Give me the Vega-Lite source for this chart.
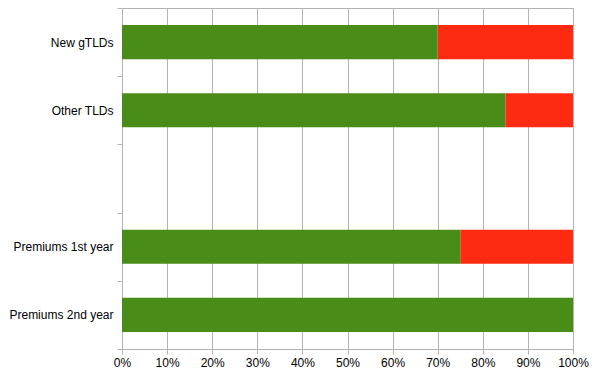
{
  "$schema": "https://vega.github.io/schema/vega-lite/v6.json",
  "width": 451,
  "height": 341,
  "padding": {"left": 8, "top": 2, "right": 0, "bottom": 0},
  "background": "white",
  "config": {
    "view": {"stroke": "#b3b3b3", "strokeWidth": 1},
    "font": "Liberation Sans"
  },
  "data": {
    "values": [
      {"category": "New gTLDs", "series": "A", "value": 0.70, "order": 1},
      {"category": "New gTLDs", "series": "B", "value": 0.30, "order": 2},
      {"category": "Other TLDs", "series": "A", "value": 0.85, "order": 1},
      {"category": "Other TLDs", "series": "B", "value": 0.15, "order": 2},
      {"category": "Premiums 1st year", "series": "A", "value": 0.75, "order": 1},
      {"category": "Premiums 1st year", "series": "B", "value": 0.25, "order": 2},
      {"category": "Premiums 2nd year", "series": "A", "value": 1.0, "order": 1},
      {"category": "Premiums 2nd year", "series": "B", "value": 0.0, "order": 2}
    ]
  },
  "mark": {"type": "bar", "height": {"band": 0.5}},
  "encoding": {
    "y": {
      "field": "category",
      "type": "nominal",
      "scale": {
        "domain": ["New gTLDs", "Other TLDs", " ", "Premiums 1st year", "Premiums 2nd year"],
        "paddingInner": 0,
        "paddingOuter": 0
      },
      "axis": {
        "title": null,
        "tickBand": "extent",
        "tickSize": 5,
        "tickColor": "#b3b3b3",
        "domainColor": "#b3b3b3",
        "labelFontSize": 12,
        "labelColor": "#000000",
        "labelPadding": 4,
        "grid": false
      }
    },
    "x": {
      "field": "value",
      "type": "quantitative",
      "stack": "zero",
      "scale": {"domain": [0, 1], "nice": false},
      "axis": {
        "title": null,
        "format": ".0%",
        "values": [0, 0.1, 0.2, 0.3, 0.4, 0.5, 0.6, 0.7, 0.8, 0.9, 1.0],
        "grid": true,
        "gridColor": "#b3b3b3",
        "tickColor": "#b3b3b3",
        "domainColor": "#b3b3b3",
        "tickSize": 5,
        "labelFontSize": 12,
        "labelColor": "#000000",
        "labelPadding": 3,
        "labelFlush": false
      }
    },
    "color": {
      "field": "series",
      "type": "nominal",
      "scale": {"domain": ["A", "B"], "range": ["#4a8c18", "#ff2a12"]},
      "legend": null
    },
    "order": {"field": "order", "type": "quantitative"}
  }
}
